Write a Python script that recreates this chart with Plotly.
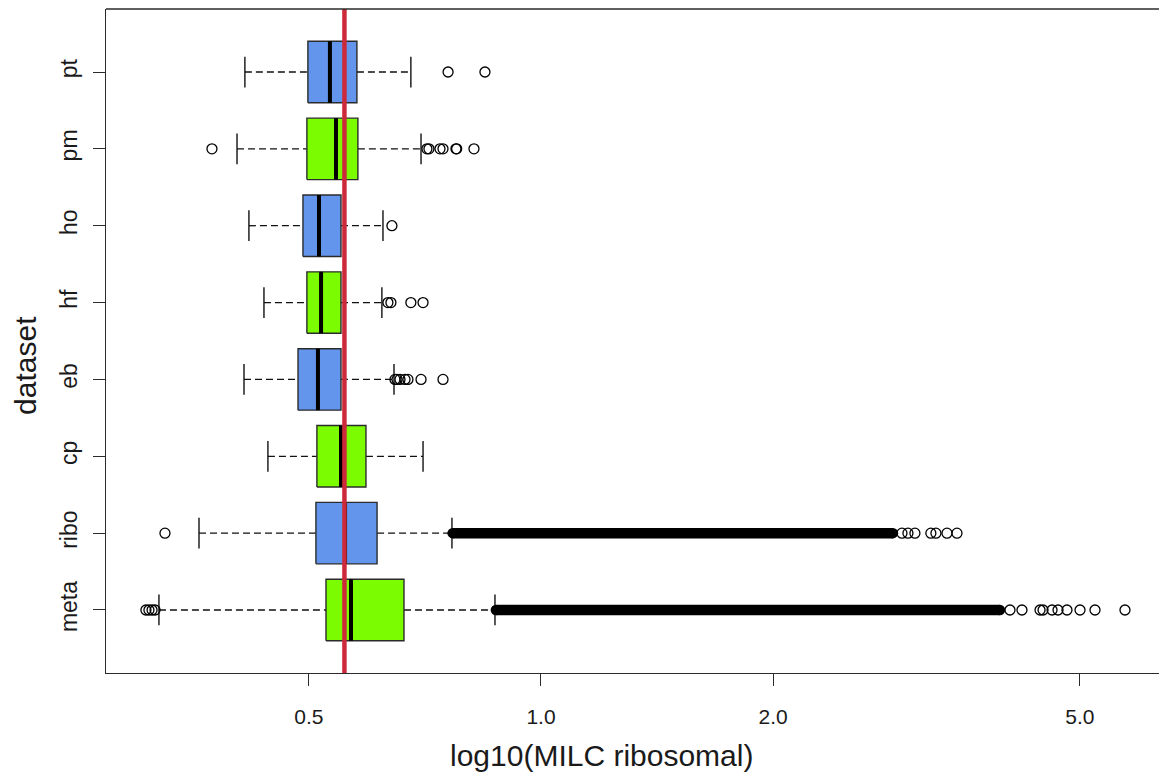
import plotly.graph_objects as go

# ---------------- data ----------------
categories = ["meta", "ribo", "cp", "eb", "hf", "ho", "pm", "pt"]
box_colors = ["#7CFC00", "#6495ED", "#7CFC00", "#6495ED",
              "#7CFC00", "#6495ED", "#7CFC00", "#6495ED"]

lower_whisker = [0.3195, 0.3601, 0.4424, 0.4119, 0.4372, 0.4180, 0.4034, 0.4130]
q1_values     = [0.5262, 0.5106, 0.5121, 0.4840, 0.4970, 0.4912, 0.4970, 0.4985]
median_values = [0.5670, 0.5570, 0.5503, 0.5137, 0.5185, 0.5153, 0.5421, 0.5324]
q3_values     = [0.6642, 0.6129, 0.5929, 0.5503, 0.5503, 0.5503, 0.5788, 0.5771]
upper_whisker = [0.8716, 0.7665, 0.7031, 0.6447, 0.6218, 0.6238, 0.6989, 0.6780]

outliers_meta = [0.3073, 0.3101, 0.3130, 0.3158,
                 4.058, 4.206, 4.439, 4.479, 4.601, 4.684, 4.811, 5.002, 5.231, 5.721]
outliers_ribo = [0.3253, 2.939, 2.992, 3.055, 3.204, 3.253, 3.362, 3.464]
outliers_cp = []
outliers_eb = [0.6466, 0.6505, 0.6563, 0.6662, 0.6721, 0.6989, 0.7463]
outliers_hf = [0.6331, 0.6388, 0.6780, 0.7031]
outliers_ho = [0.6407]
outliers_pm = [0.3743, 0.7113, 0.7156, 0.7396, 0.7463, 0.7757, 0.7774, 0.8186]
outliers_pt = [0.7577, 0.8459]
outliers = [outliers_meta, outliers_ribo, outliers_cp, outliers_eb,
            outliers_hf, outliers_ho, outliers_pm, outliers_pt]

# continuous runs of overlapping outlier circles (start, end)
dense_meta = [0.874, 3.938]
dense_ribo = [0.768, 2.861]
dense_runs = [dense_meta, dense_ribo, None, None, None, None, None, None]

threshold = 0.556

x_ticks = [0.5, 1.0, 2.0, 5.0]
x_tick_labels = ["0.5", "1.0", "2.0", "5.0"]

# ---------------- figure ----------------
FONT = "Liberation Sans, Arial, Helvetica, sans-serif"
BOX_HALF = 0.4
CAP_HALF = 0.2
EDGE = "#2b2b2b"

fig = go.Figure()

for i, cat in enumerate(categories):
    p = i + 1
    lo, a, m, b, hi = (lower_whisker[i], q1_values[i], median_values[i],
                       q3_values[i], upper_whisker[i])
    # whiskers (dashed)
    fig.add_trace(go.Scatter(x=[lo, a, None, b, hi], y=[p, p, None, p, p],
                             mode="lines", line=dict(color="#111", width=1.3, dash="7px,4px"),
                             hoverinfo="skip", showlegend=False))
    # staples
    fig.add_trace(go.Scatter(x=[lo, lo, None, hi, hi],
                             y=[p - CAP_HALF, p + CAP_HALF, None, p - CAP_HALF, p + CAP_HALF],
                             mode="lines", line=dict(color="#111", width=1.4),
                             hoverinfo="skip", showlegend=False))
    # box
    fig.add_trace(go.Scatter(x=[a, b, b, a, a],
                             y=[p - BOX_HALF, p - BOX_HALF, p + BOX_HALF, p + BOX_HALF, p - BOX_HALF],
                             mode="lines", fill="toself", fillcolor=box_colors[i],
                             line=dict(color=EDGE, width=1.4),
                             hoverinfo="skip", showlegend=False))
    # median
    fig.add_trace(go.Scatter(x=[m, m], y=[p - BOX_HALF, p + BOX_HALF],
                             mode="lines", line=dict(color="black", width=4),
                             hoverinfo="skip", showlegend=False))
    # dense outlier run
    run = dense_runs[i]
    if run is not None:
        fig.add_trace(go.Scatter(x=run, y=[p, p], mode="lines+markers",
                                 line=dict(color="black", width=10.5),
                                 marker=dict(symbol="circle", size=10.5, color="black"),
                                 hoverinfo="skip", showlegend=False))
    # individual outliers
    if outliers[i]:
        fig.add_trace(go.Scatter(x=outliers[i], y=[p] * len(outliers[i]), mode="markers",
                                 marker=dict(symbol="circle-open", size=10,
                                             color="black", line=dict(width=1.3)),
                                 hoverinfo="skip", showlegend=False))

# threshold line (drawn last, on top)
fig.add_trace(go.Scatter(x=[threshold, threshold], y=[0.18, 8.82], mode="lines",
                         line=dict(color="#CC2A3A", width=4.5),
                         hoverinfo="skip", showlegend=False))

fig.update_layout(
    width=1159, height=780,
    margin=dict(l=106, r=0, t=9, b=107),
    paper_bgcolor="white", plot_bgcolor="white",
    font=dict(family=FONT, color="#1a1a1a"),
    showlegend=False,
    xaxis=dict(type="log", range=[-0.5642, 0.8016],
               tickvals=x_ticks, ticktext=x_tick_labels,
               ticks="outside", ticklen=12, tickwidth=1.3, tickcolor=EDGE,
               tickfont=dict(size=21, family=FONT, color="#1a1a1a"),
               ticklabelstandoff=13,
               showline=True, linecolor=EDGE, linewidth=1.4,
               showgrid=False, zeroline=False),
    yaxis=dict(range=[0.18, 8.82],
               tickvals=list(range(1, len(categories) + 1)), ticktext=categories,
               tickangle=-90,
               ticks="outside", ticklen=12, tickwidth=1.3, tickcolor=EDGE,
               tickfont=dict(size=23, family=FONT, color="#1a1a1a"),
               ticklabelstandoff=7,
               showline=True, linecolor=EDGE, linewidth=1.4,
               showgrid=False, zeroline=False),
    shapes=[dict(type="line", xref="paper", yref="paper", x0=0, x1=1, y0=1, y1=1,
                 line=dict(color=EDGE, width=1.4))],
    annotations=[
        dict(text="log10(MILC ribosomal)", xref="paper", yref="paper",
             x=0.471, y=-0.124, xanchor="center", yanchor="middle",
             showarrow=False, font=dict(size=30, family=FONT, color="#1a1a1a")),
        dict(text="dataset", xref="paper", yref="paper",
             x=-0.076, y=0.464, xanchor="center", yanchor="middle", textangle=-90,
             showarrow=False, font=dict(size=30, family=FONT, color="#1a1a1a")),
    ],
)

fig.write_html("out.html",
               config={"displayModeBar": False},
               post_script="document.body.style.margin='0';"
                           "document.body.style.overflow='hidden';")
